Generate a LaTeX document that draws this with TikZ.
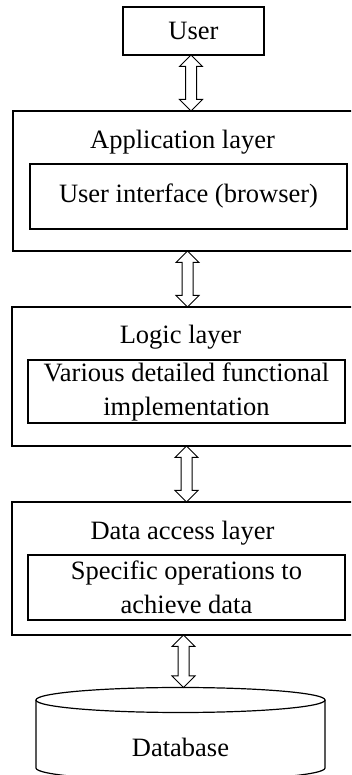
\documentclass[tikz,border=0pt]{standalone}
\usepackage{fontspec}
\setmainfont{Liberation Serif}
\usetikzlibrary{shapes.arrows}

\begin{document}
\begin{tikzpicture} [x=1pt, y=1pt, font=\fontsize{26.5}{34}\selectfont,
     box/.style={rectangle, draw, line width=1.2pt, outer sep=0pt, inner sep=2pt},
     inbox/.style={box, minimum width=317pt, align=center},
     updown/.style={double arrow, draw, line width=1pt, rotate=90, minimum height=#1,
                    minimum width=22pt, double arrow head extend=6pt,
                    double arrow head indent=0pt, inner sep=5pt}
   ]
\useasboundingbox (0,0) rectangle (351,775);
\clip (0,0) rectangle (351,775);

\node (user) [box, minimum width=141pt, minimum height=48pt] at (193.5,744) {User};

% application layer
\node (app) [box, minimum width=351pt, minimum height=140pt] at (188.5,594) {};
\node (apptitle) at (182.5,633) {Application layer};
\node (ui) [inbox, minimum height=65pt] at (188.5,578.5) {User interface (browser)};

% logic layer
\node (logic) [box, minimum width=349pt, minimum height=139pt] at (186.5,398.5) {};
\node (logictitle) at (180.5,438) {Logic layer};
\node (impl) [inbox, minimum height=63pt] at (186.5,383.5)
  {Various detailed functional\\implementation};

% data access layer
\node (data) [box, minimum width=349pt, minimum height=133pt] at (186.5,206.5) {};
\node (datatitle) at (182.5,242) {Data access layer};
\node (ops) [inbox, minimum height=65pt] at (186.5,187.5)
  {Specific operations to\\achieve data};

% database
\draw [line width=1.2pt] (180.5,75) ellipse [x radius=144.5pt, y radius=12.5pt];
\draw [line width=1.2pt] (36,75) -- (36,7)
  arc [start angle=180, end angle=360, x radius=144.5pt, y radius=12.5pt] -- (325,75);
\coordinate (dbtop) at (180.5,87.5);
\node (db) at (180.5,28) {Database};

\path (user.south) -- node[updown=56pt] {} (app.north);
\path (app.south) -- node[updown=56pt] {} (logic.north);
\path (logic.south) -- node[updown=56pt] {} (data.north);
\path (data.south) -- node[updown=52.5pt] {} (dbtop);
\end{tikzpicture}
\end{document}
